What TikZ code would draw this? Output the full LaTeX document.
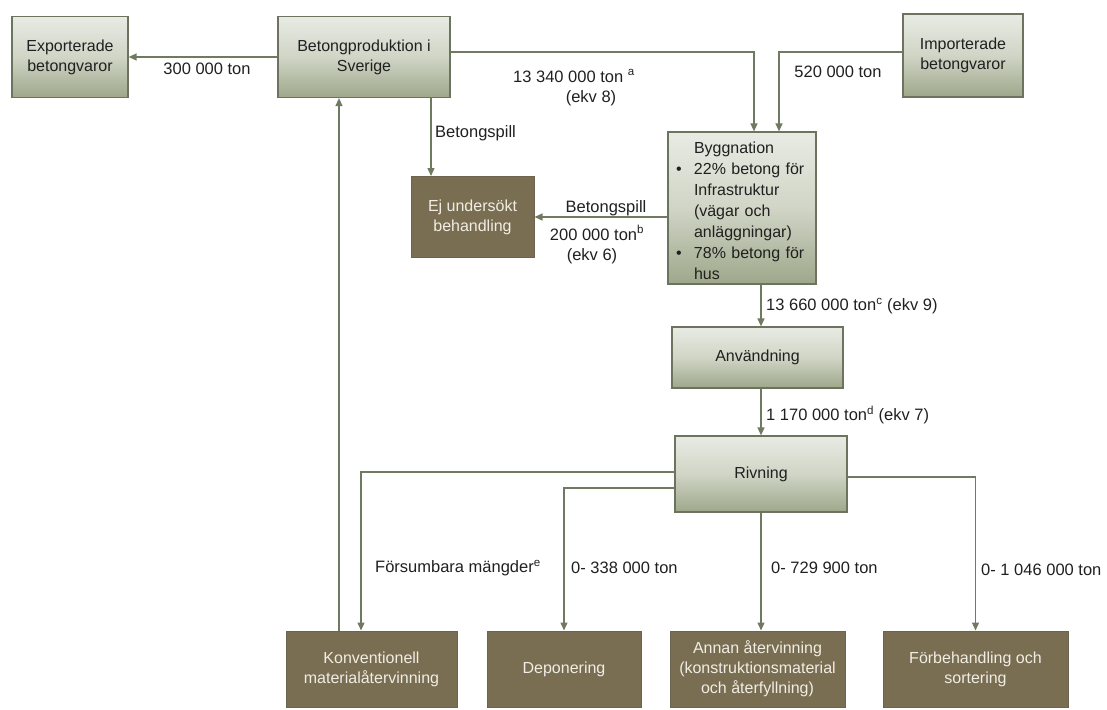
\documentclass[tikz,border=0pt]{standalone}
\usepackage{fontspec}
\setmainfont{Liberation Sans}
\usetikzlibrary{arrows.meta,calc}
\definecolor{lineC}{RGB}{112,122,96}
\definecolor{gTop}{RGB}{232,235,228}
\definecolor{gMid}{RGB}{208,213,198}
\definecolor{gBot}{RGB}{158,167,138}
\definecolor{gEdge}{RGB}{108,116,96}
\definecolor{bFill}{RGB}{122,110,82}
\definecolor{bEdge}{RGB}{108,100,78}
\definecolor{bText}{RGB}{240,237,228}
\definecolor{tC}{RGB}{32,32,32}
\begin{document}
\begin{tikzpicture}[x=1pt,y=-1pt,
  gbox/.style={rectangle, draw=gEdge, line width=1.2pt, top color=gTop, bottom color=gBot, middle color=gMid,
    align=center, text=tC, font=\fontsize{16}{20}\selectfont, inner sep=3pt},
  bbox/.style={rectangle, draw=bEdge, line width=1pt, fill=bFill,
    align=center, text=bText, font=\fontsize{16}{20}\selectfont, inner sep=3pt},
  lbl/.style={text=tC, font=\fontsize{16.5}{20}\selectfont, inner sep=1pt},
  arr/.style={draw=lineC, line width=1.3pt, -{Triangle[length=8pt,width=7pt]}}]
\useasboundingbox (0,0) rectangle (1107,709);

% green boxes
\node[gbox, minimum width=116pt, minimum height=81pt] (export) at (70,57) {Exporterade\\betongvaror};
\node[gbox, minimum width=172pt, minimum height=81pt] (betong) at (364,57) {Betongproduktion i\\Sverige};
\node[gbox, minimum width=120pt, minimum height=83pt] (import) at (963,55.5) {Importerade\\betongvaror};
\node[gbox, minimum width=148pt, minimum height=152pt, text width=132pt, inner xsep=8pt, align=left,
  font=\fontsize{16}{21}\selectfont] (byg) at (742,208)
  {\rule{0pt}{17pt}\hspace*{18pt}Byggnation\\
   \makebox[18pt][l]{\textbullet}22\% betong för\\
   \hspace*{18pt}Infrastruktur\\
   \hspace*{18pt}(vägar och\\
   \hspace*{18pt}anläggningar)\\
   \makebox[18pt][l]{\textbullet}78\% betong för\\
   \hspace*{18pt}hus};
\node[gbox, minimum width=171pt, minimum height=61pt] (anv) at (757.5,357.5) {Användning};
\node[gbox, minimum width=172pt, minimum height=76pt] (riv) at (761,474) {Rivning};

% brown boxes
\node[bbox, minimum width=123pt, minimum height=81pt] (ej) at (472.5,217) {Ej undersökt\\behandling};
\node[bbox, minimum width=171pt, minimum height=76pt] (konv) at (371.5,669) {Konventionell\\materialåtervinning};
\node[bbox, minimum width=154pt, minimum height=76pt] (dep) at (564,669) {Deponering};
\node[bbox, minimum width=175pt, minimum height=76pt] (annan) at (757.5,669) {Annan återvinning\\(konstruktionsmaterial\\och återfyllning)};
\node[bbox, minimum width=185pt, minimum height=76pt] (forb) at (975.5,669) {Förbehandling och\\sortering};

% connectors
\coordinate (kup) at ([xshift=-32.5pt]konv.north);
\draw[arr] (kup) -- (kup |- betong.south);
\draw[arr] (betong.west) -- (export.east);
\draw[arr] ([yshift=5pt]betong.east) -| ([xshift=12pt]byg.north);
\draw[arr] ([yshift=3.5pt]import.west) -| ([xshift=37pt]byg.north);
\coordinate (bsp) at ([xshift=67pt]betong.south);
\draw[arr] (bsp) -- (bsp |- ej.north);
\draw[arr] (byg.west |- ej.east) -- (ej.east);
\draw[arr] (byg.south -| riv.north) -- (anv.north -| riv.north);
\draw[arr] (anv.south -| riv.north) -- (riv.north);
\draw[arr] ([yshift=2pt]riv.west) -| ([xshift=-10.5pt]konv.north);
\draw[arr] ([yshift=-14pt]riv.west) -| (dep.north);
\draw[arr] (riv.south) -- (riv.south |- annan.north);
\draw[arr] ([yshift=-3pt]riv.east) -| (forb.north);

% labels
\node[lbl] (l300) at (207,69) {300 000 ton};
\node[lbl] (l1334) at (574,76) {13 340 000 ton \textsuperscript{a}};
\node[lbl] (lekv8) at (591,98) {(ekv 8)};
\node[lbl] (l520) at (838,72) {520 000 ton};
\node[lbl,anchor=west] (lbs1) at (434,133) {Betongspill};
\node[lbl] (lbs2) at (606,208) {Betongspill};
\node[lbl] (l200) at (597,233) {200 000 ton\textsuperscript{b}};
\node[lbl] (lekv6) at (592,256) {(ekv 6)};
\node[lbl,anchor=west] (l1366) at (765,306) {13 660 000 ton\textsuperscript{c} (ekv 9)};
\node[lbl,anchor=west] (l117) at (765,415) {1 170 000 ton\textsuperscript{d} (ekv 7)};
\node[lbl,anchor=west] (lfm) at (374,568) {Försumbara mängder\textsuperscript{e}};
\node[lbl,anchor=west] (l338) at (570,568) {0- 338 000 ton};
\node[lbl,anchor=west] (l729) at (770,568) {0- 729 900 ton};
\node[lbl,anchor=west] (l1046) at (980,570) {0- 1 046 000 ton};
\end{tikzpicture}
\end{document}
